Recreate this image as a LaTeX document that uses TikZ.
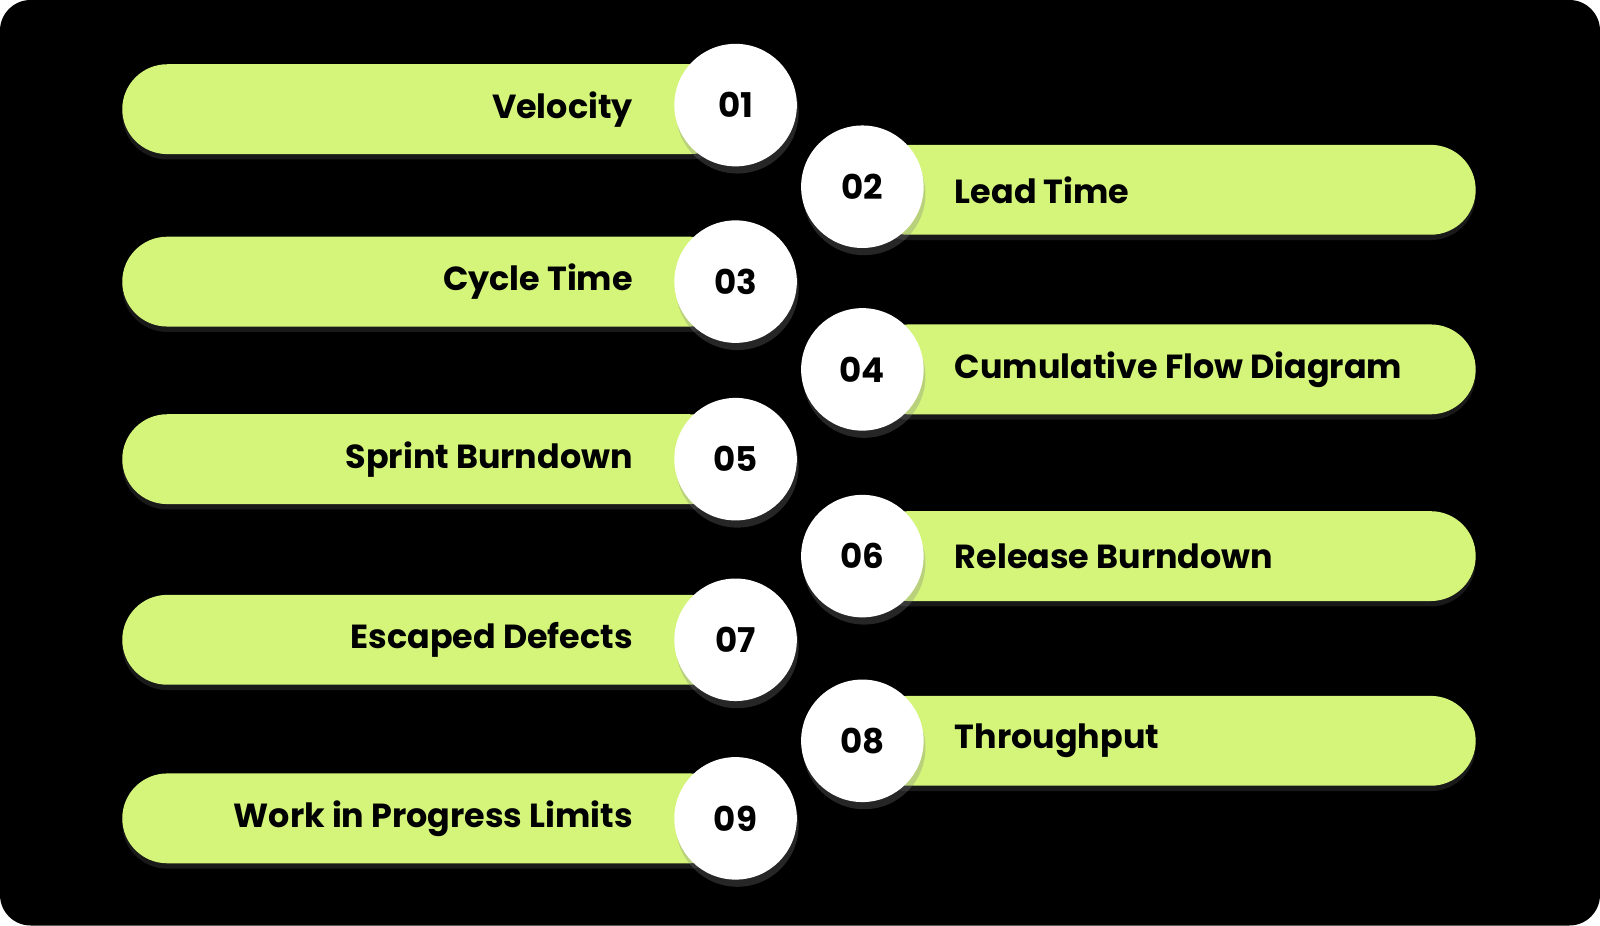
\documentclass[tikz,border=0pt]{standalone}
\usepackage{fontspec}
\setmainfont{Poppins}
\usetikzlibrary{positioning,shadows}
\definecolor{lime}{HTML}{D4F57A}
\tikzset{
  pill/.style={rectangle,rounded corners=0.44cm,fill=lime,minimum width=6cm,minimum height=0.88cm,
    drop shadow={shadow xshift=0pt,shadow yshift=-1.5pt,opacity=0.2}},
  txt/.style={font=\fontsize{9.3}{11}\selectfont\bfseries,inner sep=0pt},
  leftpill/.style={pill,label={[txt,anchor=east,xshift=-1cm]east:#1}},
  rightpill/.style={pill,label={[txt,anchor=west,xshift=0.9cm]west:#1}},
  num/.style={circle,fill=white,minimum size=1.2cm,inner sep=0pt,font=\fontsize{9.5}{12}\selectfont\bfseries,
    drop shadow={shadow xshift=0.5pt,shadow yshift=-2pt,opacity=0.3}}
}
\begin{document}
\begin{tikzpicture}[x=0.01cm,y=-0.01cm]
  \useasboundingbox (0,0) rectangle (1568,907);
  \fill[white] (0,0) rectangle (1568,907);
  \fill[black,rounded corners=0.3cm] (0,0) rectangle (1568,907);
  % left column
  \node(velocity)[leftpill=Velocity] at (420,107){};
  \node(cycle)[leftpill=Cycle Time] at (420,276){};
  \node(sprint)[leftpill=Sprint Burndown] at (420,450){};
  \node(defects)[leftpill=Escaped Defects] at (420,627){};
  \node(wip)[leftpill=Work in Progress Limits] at (420,802){};
  % right column
  \node(lead)[rightpill=Lead Time] at (1146,186){};
  \node(flow)[rightpill=Cumulative Flow Diagram] at (1146,362){};
  \node(release)[rightpill=Release Burndown] at (1146,545){};
  \node(through)[rightpill=Throughput] at (1146,726){};
  % numbers
  \node(n1)[num] at ([yshift=0.04cm]velocity.east){01};
  \node(n2)[num] at ([yshift=0.03cm]lead.west){02};
  \node(n3)[num] at (cycle.east){03};
  \node(n4)[num] at (flow.west){04};
  \node(n5)[num] at (sprint.east){05};
  \node(n6)[num] at (release.west){06};
  \node(n7)[num] at (defects.east){07};
  \node(n8)[num] at (through.west){08};
  \node(n9)[num] at (wip.east){09};
\end{tikzpicture}
\end{document}
